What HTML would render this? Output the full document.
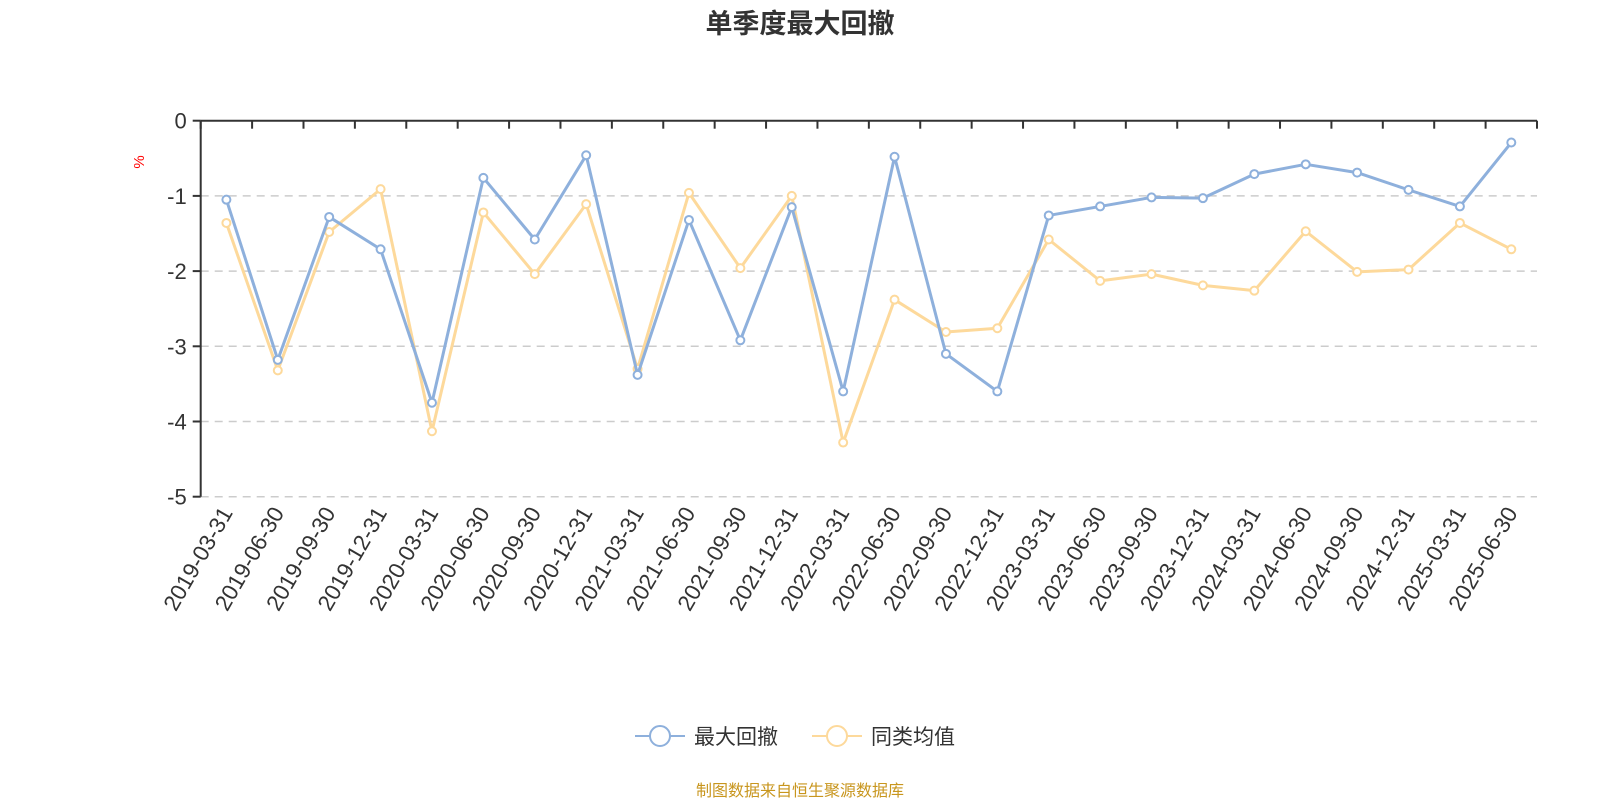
<!DOCTYPE html>
<html><head><meta charset="utf-8"><style>
body{margin:0;background:#fff;width:1600px;height:800px;overflow:hidden;font-family:"Liberation Sans","Noto Sans CJK SC",sans-serif}
</style></head><body>
<svg id="c" width="1600" height="800" xmlns="http://www.w3.org/2000/svg">
<text x="800" y="33" text-anchor="middle" font-size="27" font-weight="bold" fill="#333" font-family="Liberation Sans, Noto Sans CJK SC, sans-serif">单季度最大回撤</text>
<text x="0" y="0" transform="translate(144,162) rotate(-90)" text-anchor="middle" font-size="15" fill="#f00">%</text>
<g id="grid"></g><g id="axes"></g><g id="series"></g>
<g>
<g>
<line x1="635" y1="736" x2="685" y2="736" stroke="#8eb0dc" stroke-width="2"/>
<circle cx="660" cy="736" r="10" fill="#fff" stroke="#8eb0dc" stroke-width="2"/>
<text x="694" y="744" font-size="21" fill="#333">最大回撤</text></g>
<g>
<line x1="812" y1="736" x2="862" y2="736" stroke="#fdd99b" stroke-width="2"/>
<circle cx="837" cy="736" r="10" fill="#fff" stroke="#fdd99b" stroke-width="2"/>
<text x="871" y="744" font-size="21" fill="#333">同类均值</text></g>
</g>
<text x="800" y="796" text-anchor="middle" font-size="16" fill="#c8961e">制图数据来自恒生聚源数据库</text>
</svg>
<script>
const categories=["2019-03-31","2019-06-30","2019-09-30","2019-12-31","2020-03-31","2020-06-30","2020-09-30","2020-12-31","2021-03-31","2021-06-30","2021-09-30","2021-12-31","2022-03-31","2022-06-30","2022-09-30","2022-12-31","2023-03-31","2023-06-30","2023-09-30","2023-12-31","2024-03-31","2024-06-30","2024-09-30","2024-12-31","2025-03-31","2025-06-30"];
const maxDrawdown=[-1.05,-3.18,-1.28,-1.71,-3.75,-0.76,-1.58,-0.46,-3.38,-1.32,-2.92,-1.15,-3.6,-0.48,-3.1,-3.6,-1.26,-1.14,-1.02,-1.03,-0.71,-0.58,-0.69,-0.92,-1.14,-0.29];
const peerAverage=[-1.36,-3.32,-1.48,-0.91,-4.13,-1.22,-2.04,-1.11,-3.3,-0.96,-1.96,-1.0,-4.28,-2.38,-2.81,-2.76,-1.58,-2.13,-2.04,-2.19,-2.26,-1.47,-2.01,-1.98,-1.36,-1.71];
const yTicks=[0,-1,-2,-3,-4,-5];
const NS="http://www.w3.org/2000/svg";
const X0=200.7,X1=1537,Y0=120.7,Y5=496.7;
const band=(X1-X0)/categories.length;
function xPos(i){return X0+band*(i+0.5);}
function yPos(v){return Y0+(0-v)/5*(Y5-Y0);}
function mk(tag,attrs,parent){const e=document.createElementNS(NS,tag);for(const k in attrs)e.setAttribute(k,attrs[k]);parent.appendChild(e);return e;}
const grid=document.getElementById('grid'),axes=document.getElementById('axes'),series=document.getElementById('series');
yTicks.forEach(t=>{
 const y=yPos(t);
 if(t!==0){const g=mk('line',{x1:X0,x2:X1,y1:y,y2:y,stroke:'#ccc','stroke-width':1.5,'stroke-dasharray':'8,6'},grid);
 
 }
 mk('line',{x1:X0-8,x2:X0,y1:y,y2:y,stroke:'#333','stroke-width':2},axes);
 const l=mk('text',{x:X0-14,y:y+8,'text-anchor':'end','font-size':22,fill:'#333'},axes);
 l.textContent=t;
 
 
});
const ya=mk('line',{x1:X0,x2:X0,y1:Y0,y2:Y5,stroke:'#333','stroke-width':2},axes);


const xa=mk('line',{x1:X0,x2:X1,y1:Y0,y2:Y0,stroke:'#333','stroke-width':2},axes);


for(let i=0;i<=categories.length;i++){const x=X0+band*i;mk('line',{x1:x,x2:x,y1:Y0,y2:Y0+8,stroke:'#333','stroke-width':2},axes);}
categories.forEach((c,i)=>{
 const x=xPos(i);
 const t=mk('text',{x:0,y:0,transform:`translate(${x+7},${Y5+16}) rotate(-60)`,'text-anchor':'end','font-size':22.5,fill:'#333'},axes);
 t.textContent=c;
 
 
});
function draw(vals,color,name){
 const p=mk('polyline',{points:vals.map((v,i)=>xPos(i)+','+yPos(v)).join(' '),fill:'none',stroke:color,'stroke-width':3,'stroke-linejoin':'round'},series);
 
 
 vals.forEach((v,i)=>{
  const c=mk('circle',{cx:xPos(i),cy:yPos(v),r:4,fill:'#fff',stroke:color,'stroke-width':2},series);
  
  
 });
}
draw(peerAverage,'#fdd99b','peer-average');
draw(maxDrawdown,'#8eb0dc','max-drawdown');
</script>
</body></html>
